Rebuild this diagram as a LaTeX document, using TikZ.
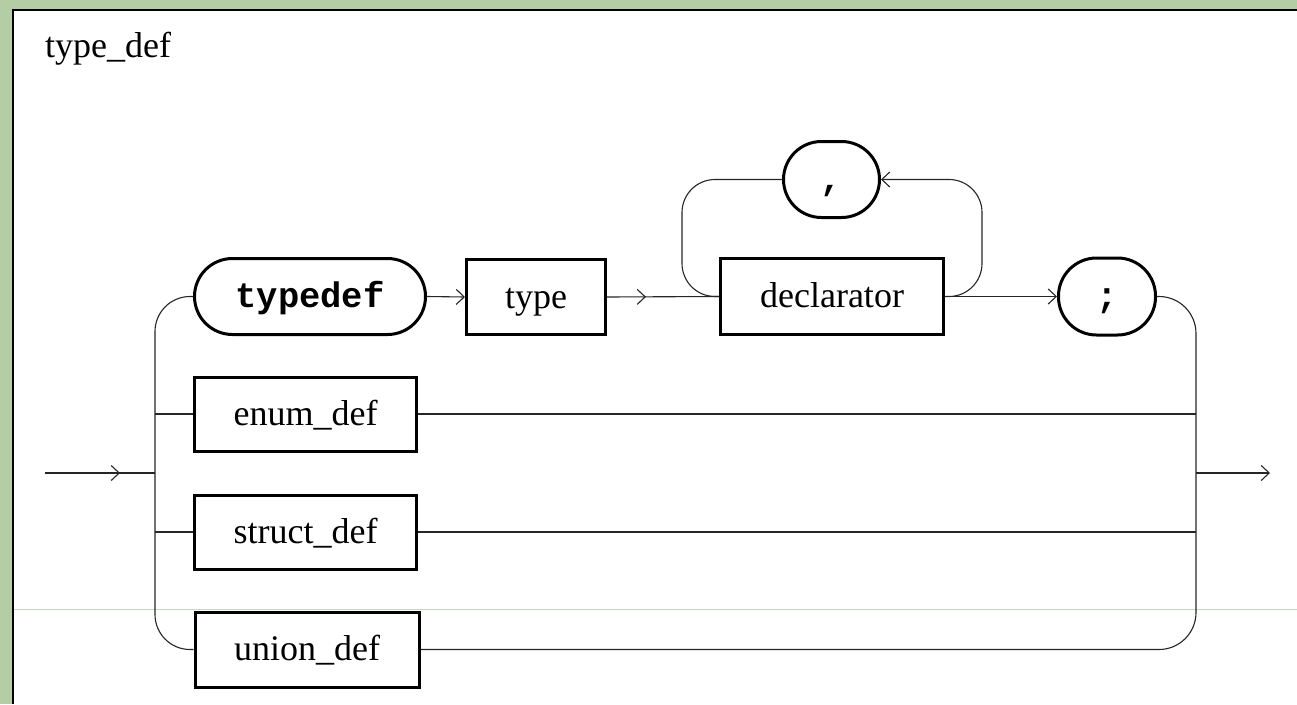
\documentclass[tikz,border=0pt]{standalone}
\usepackage{fontspec}
\setmainfont{Liberation Serif}
\setmonofont{Liberation Mono}
\usetikzlibrary{arrows.meta,decorations.markings}
\definecolor{bggreen}{RGB}{181,205,164}
\definecolor{faintline}{RGB}{200,214,196}
\tikzset{
  barb/.tip={Straight Barb[length=8pt,width=15pt]},
  conn/.style={line width=1.1pt, draw=black!85},
  ntbox/.style={draw, line width=3pt, rectangle, inner sep=0pt,
    text height=25pt, text depth=3pt,
    font=\fontsize{36}{40}\selectfont},
  tmbox/.style={draw, line width=3pt, rectangle, rounded corners=38pt, inner sep=0pt,
    text height=25pt, text depth=3pt,
    font=\fontsize{35.5}{40}\selectfont\ttfamily\bfseries},
  midarrow/.style={postaction={decorate}, decoration={markings,
    mark=at position #1 with {\arrow{barb}}}}
}
\begin{document}
\begin{tikzpicture}[x=1pt,y=-1pt]
\useasboundingbox (0,0) rectangle (1297,704);
% background and panel
\fill[bggreen] (0,0) rectangle (1297,704);
\fill[white] (13,10) rectangle (1297,704);
\draw[line width=2pt] (12.8,704) -- (12.8,10) -- (1297,10);
\draw[faintline, line width=1pt] (14,609.5) -- (1297,609.5);
% title
\node[anchor=base west, inner sep=0pt, font=\fontsize{36}{40}\selectfont] (title) at (45,57) {type\_def};
% nodes
\node[tmbox, minimum width=231pt, minimum height=76pt] (typedef) at (310,296.5) {typedef};
\node[ntbox, minimum width=139pt, minimum height=75pt] (type) at (536,297) {type};
\node[ntbox, minimum width=223pt, minimum height=76pt] (decl) at (832,296.5) {declarator};
\node[tmbox, minimum width=96pt, minimum height=76pt] (comma) at (831.5,179.5) {,};
\node[tmbox, minimum width=97pt, minimum height=77pt] (semi) at (1107,296.5) {;};
\node[ntbox, minimum width=222pt, minimum height=74pt] (enum) at (305.5,414) {enum\_def};
\node[ntbox, minimum width=222pt, minimum height=74pt] (struct) at (305.5,532) {struct\_def};
\node[ntbox, minimum width=224pt, minimum height=75pt] (union) at (307,649.5) {union\_def};
% coordinates
\coordinate (start) at (45,473);
\coordinate (lx) at (155,473);
\coordinate (rx) at (1196,473);
\coordinate (finish) at (1270,473);
\coordinate (ll) at (682,179.5);
\coordinate (lr) at (982,179.5);
% left rail
\draw[conn, rounded corners=35pt] (typedef.west) -| (lx) |- (union.west);
\draw[conn, midarrow=75pt] (start) -- (lx);
\draw[conn] (enum.west -| lx) -- (enum.west);
\draw[conn] (struct.west -| lx) -- (struct.west);
% main row
\draw[conn, -barb] (typedef.east) -- (type.west);
\draw[conn, midarrow=39pt] (type.east) -- (decl.west);
\draw[conn, -barb] (decl.east) -- (semi.west);
% loop
\draw[conn, rounded corners=33pt, -barb] (decl.east) -| (lr) -- (comma.east);
\draw[conn, rounded corners=33pt] (comma.west) -- (ll) |- (decl.west);
% right rail
\draw[conn, rounded corners=37pt] (semi.east) -| (rx) |- (union.east);
\draw[conn] (enum.east) -- (enum.east -| rx);
\draw[conn] (struct.east) -- (struct.east -| rx);
\draw[conn, -barb] (rx) -- (finish);
\end{tikzpicture}
\end{document}
